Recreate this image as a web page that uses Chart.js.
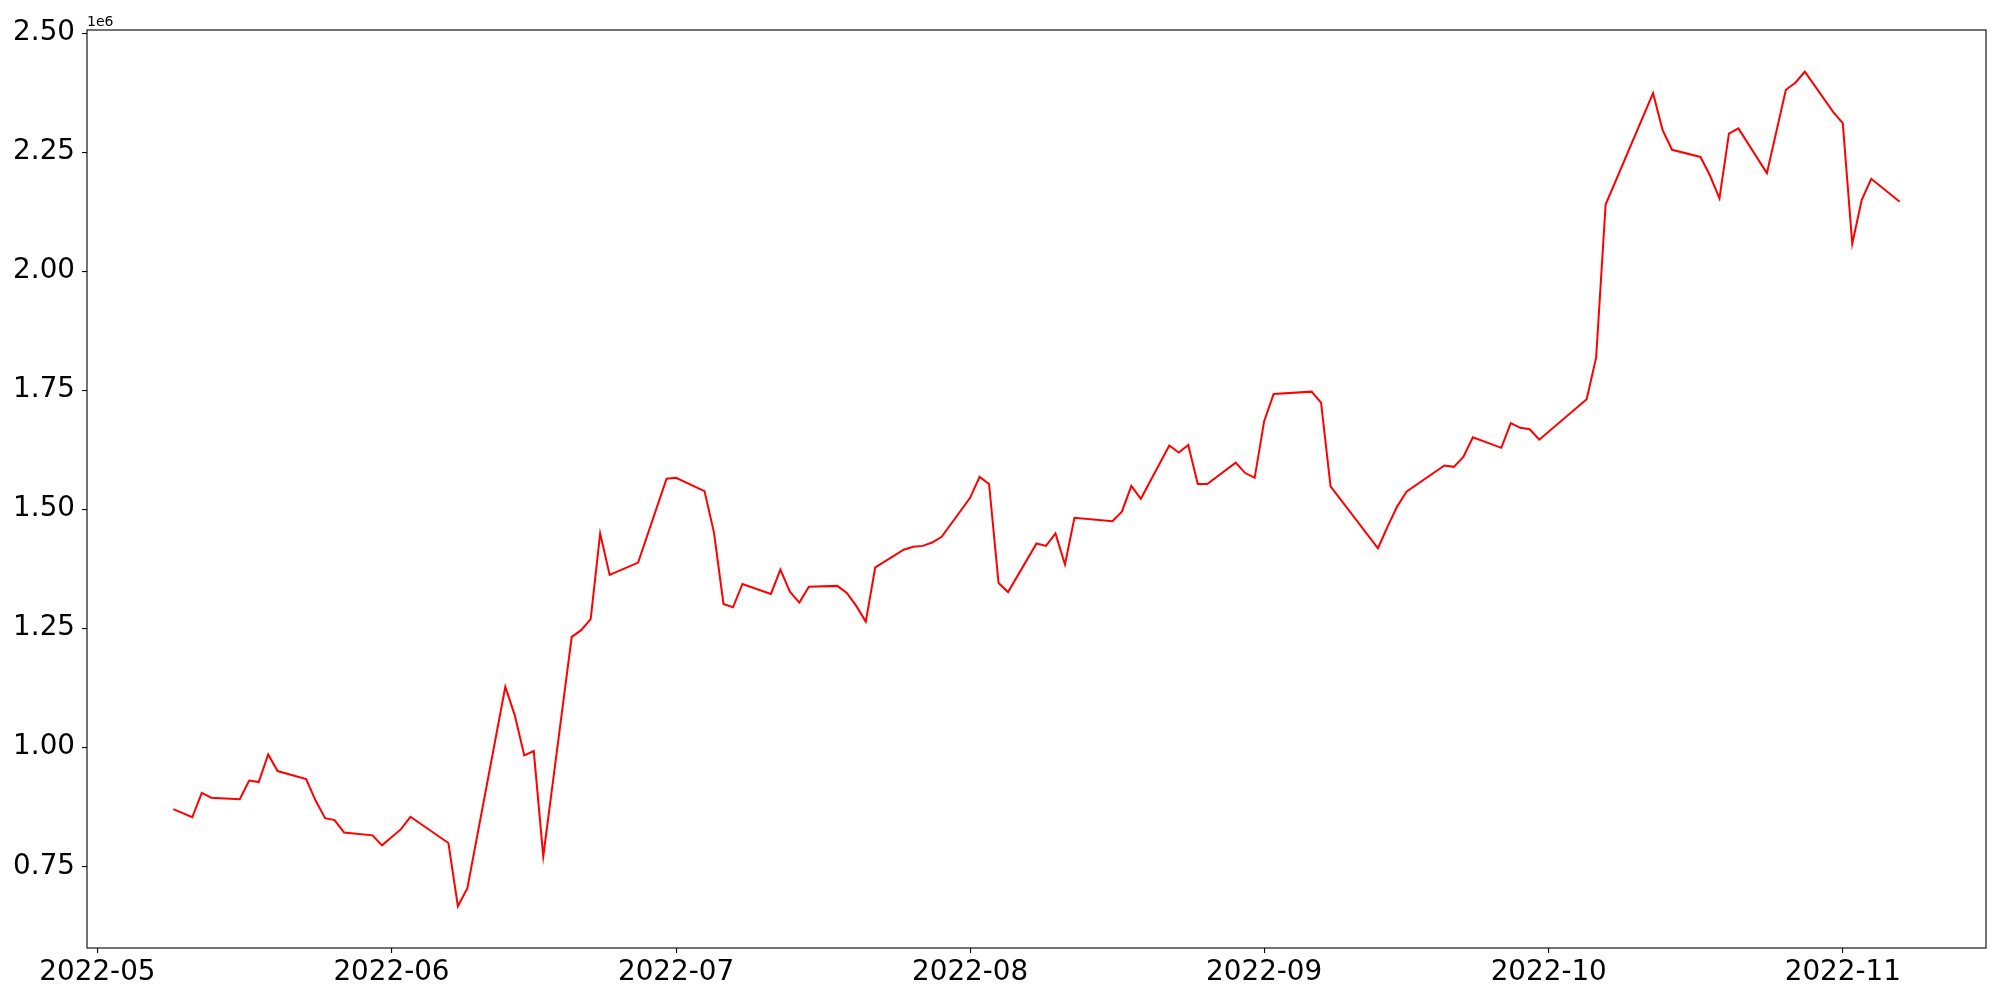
<!DOCTYPE html>
<html>
<head>
<meta charset="utf-8">
<script src="https://cdn.jsdelivr.net/npm/chart.js@4/dist/chart.umd.min.js"></script>
<style>
  html, body { margin: 0; padding: 0; background: #fff; }
  #wrap { width: 2000px; height: 1000px; }
</style>
</head>
<body>
<div id="wrap"><canvas id="c" width="2000" height="1000"></canvas></div>
<script>
const dates = [
  '2022-05-09','2022-05-11','2022-05-12','2022-05-13','2022-05-16','2022-05-17','2022-05-18','2022-05-19','2022-05-20',
  '2022-05-23','2022-05-24','2022-05-25','2022-05-26','2022-05-27','2022-05-30','2022-05-31','2022-06-02','2022-06-03',
  '2022-06-07','2022-06-08','2022-06-09','2022-06-13','2022-06-14','2022-06-15','2022-06-16','2022-06-17',
  '2022-06-20','2022-06-21','2022-06-22','2022-06-23','2022-06-24','2022-06-27','2022-06-30','2022-07-01',
  '2022-07-04','2022-07-05','2022-07-06','2022-07-07','2022-07-08','2022-07-11','2022-07-12','2022-07-13','2022-07-14','2022-07-15',
  '2022-07-18','2022-07-19','2022-07-20','2022-07-21','2022-07-22','2022-07-25','2022-07-26','2022-07-27','2022-07-28','2022-07-29',
  '2022-08-01','2022-08-02','2022-08-03','2022-08-04','2022-08-05','2022-08-08','2022-08-09','2022-08-10','2022-08-11','2022-08-12',
  '2022-08-16','2022-08-17','2022-08-18','2022-08-19','2022-08-22','2022-08-23','2022-08-24','2022-08-25','2022-08-26',
  '2022-08-29','2022-08-30','2022-08-31','2022-09-01','2022-09-02','2022-09-06','2022-09-07','2022-09-08',
  '2022-09-13','2022-09-14','2022-09-15','2022-09-16','2022-09-20','2022-09-21','2022-09-22','2022-09-23',
  '2022-09-26','2022-09-27','2022-09-28','2022-09-29','2022-09-30','2022-10-05','2022-10-06','2022-10-07',
  '2022-10-12','2022-10-13','2022-10-14','2022-10-17','2022-10-18','2022-10-19','2022-10-20','2022-10-21',
  '2022-10-24','2022-10-26','2022-10-27','2022-10-28','2022-10-31','2022-11-01','2022-11-02','2022-11-03','2022-11-04','2022-11-07'
];
const values = [
  870000, 853000, 904000, 894000, 891000, 930000, 927000, 985000, 950000,
  933000, 888000, 851000, 847000, 821000, 815000, 794000, 828000, 854000,
  799000, 666000, 704000, 1127000, 1067000, 983000, 992000, 771000,
  1232000, 1246000, 1269000, 1449000, 1362000, 1388000, 1564000, 1566000,
  1538000, 1451000, 1301000, 1294000, 1343000, 1322000, 1373000, 1327000, 1304000, 1337000,
  1339000, 1324000, 1297000, 1264000, 1378000, 1415000, 1421000, 1423000, 1430000, 1442000,
  1524000, 1568000, 1553000, 1345000, 1326000, 1428000, 1423000, 1449000, 1384000, 1482000,
  1475000, 1495000, 1549000, 1522000, 1634000, 1619000, 1635000, 1553000, 1553000,
  1598000, 1576000, 1566000, 1685000, 1742000, 1747000, 1724000, 1548000,
  1418000, 1463000, 1505000, 1537000, 1592000, 1589000, 1610000, 1651000,
  1629000, 1681000, 1671000, 1668000, 1646000, 1731000, 1819000, 2140000,
  2374000, 2297000, 2255000, 2240000, 2201000, 2153000, 2289000, 2300000,
  2206000, 2381000, 2396000, 2419000, 2334000, 2311000, 2058000, 2150000, 2194000, 2146000
];
const xTickDates = ['2022-05-01','2022-06-01','2022-07-01','2022-08-01','2022-09-01','2022-10-01','2022-11-01'];
const xTickLabels = ['2022-05','2022-06','2022-07','2022-08','2022-09','2022-10','2022-11'];
const yTickValues = [750000, 1000000, 1250000, 1500000, 1750000, 2000000, 2250000, 2500000];
const yTickLabels = ['0.75','1.00','1.25','1.50','1.75','2.00','2.25','2.50'];
const offsetText = '1e6';

const toDay = s => Date.parse(s + 'T00:00:00Z') / 86400000;
const points = dates.map((d, i) => ({ x: toDay(d), y: values[i] }));

const xs = points.map(p => p.x), ys = points.map(p => p.y);
const xMin0 = Math.min(...xs), xMax0 = Math.max(...xs);
const yMin0 = Math.min(...ys), yMax0 = Math.max(...ys);
const xm = (xMax0 - xMin0) * 0.05, ym = (yMax0 - yMin0) * 0.05;

const FONT = "'DejaVu Sans', sans-serif";

const framePlugin = {
  id: 'frame',
  afterDraw(chart) {
    const { ctx, chartArea: a } = chart;
    ctx.save();
    ctx.strokeStyle = '#000';
    ctx.lineWidth = 1.1;
    ctx.strokeRect(a.left, a.top, a.right - a.left, a.bottom - a.top);
    ctx.fillStyle = '#000';
    ctx.font = '14px ' + FONT;
    ctx.textAlign = 'left';
    ctx.textBaseline = 'alphabetic';
    ctx.fillText(offsetText, a.left, a.top - 4);
    ctx.restore();
  }
};

new Chart(document.getElementById('c'), {
  type: 'line',
  data: {
    datasets: [{
      data: points,
      borderColor: '#ff0000',
      borderWidth: 2,
      pointRadius: 0,
      tension: 0,
      fill: false
    }]
  },
  options: {
    responsive: false,
    animation: false,
    devicePixelRatio: 1,
    layout: { padding: { left: 0, right: 14, top: 30, bottom: 0 } },
    plugins: { legend: { display: false }, tooltip: { enabled: false } },
    scales: {
      x: {
        type: 'linear',
        min: xMin0 - xm,
        max: xMax0 + xm,
        afterFit(s) { s.height = 52; },
        afterBuildTicks(s) { s.ticks = xTickDates.map(d => ({ value: toDay(d) })); },
        ticks: {
          autoSkip: false, maxRotation: 0, color: '#000', padding: 3,
          font: { family: FONT, size: 27.8 },
          callback(v, i) { return xTickLabels[i]; }
        },
        grid: { display: true, drawOnChartArea: false, drawTicks: true, tickLength: 5, color: '#000', lineWidth: 1.1 },
        border: { display: false }
      },
      y: {
        type: 'linear',
        min: yMin0 - ym,
        max: yMax0 + ym,
        afterFit(s) { s.width = 87; },
        afterBuildTicks(s) { s.ticks = yTickValues.map(v => ({ value: v })); },
        ticks: {
          autoSkip: false, color: '#000', padding: 7,
          font: { family: FONT, size: 27.8 },
          callback(v, i) { return yTickLabels[i]; }
        },
        grid: { display: true, drawOnChartArea: false, drawTicks: true, tickLength: 5, color: '#000', lineWidth: 1.1 },
        border: { display: false }
      }
    }
  },
  plugins: [framePlugin]
});
</script>
</body>
</html>
